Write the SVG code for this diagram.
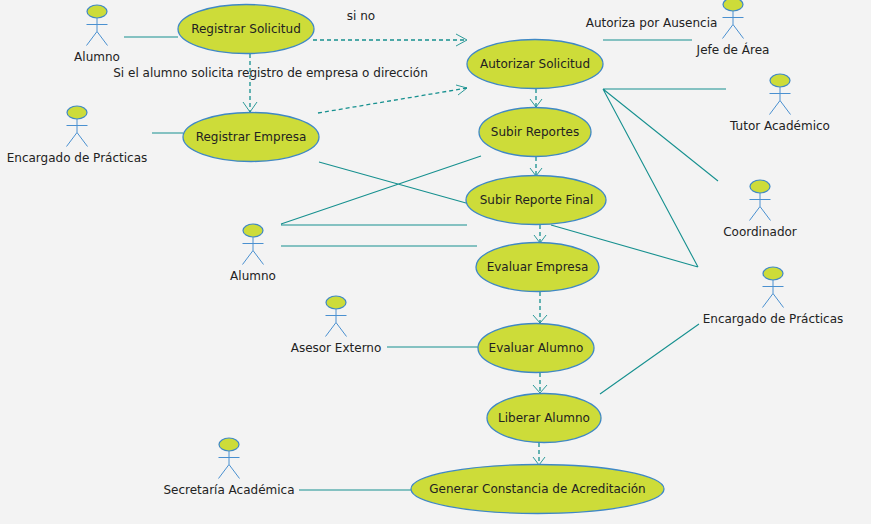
<svg xmlns="http://www.w3.org/2000/svg" width="871" height="524" viewBox="0 0 871 524">
<style>
text{font-family:"DejaVu Sans",sans-serif;font-size:12px;fill:#222;text-anchor:middle}
.u ellipse{fill:#cddc39;stroke:#3f88c5;stroke-width:1.3}
#st ellipse{fill:#cddc39;stroke:#3f88c5;stroke-width:1.2}
#st path{fill:none;stroke:#4a90d0;stroke-width:1}
.s{fill:none;stroke:#16908f;stroke-width:1.1}
.d{fill:none;stroke:#16908f;stroke-width:1.3;stroke-dasharray:4 3}
.h{fill:none;stroke:#16908f;stroke-width:.9}
</style>
<defs>
<g id="st"><ellipse cx="0" cy="0" rx="10" ry="6.500"/><path d="M0 6.500V20M-10.500 13H10.500M0 20L-10.500 34M0 20L10.500 34"/></g>
</defs>
<rect width="871" height="524" fill="#f3f3f3"/>
<g id="connectors">
<path class="s" d="M124 37H178M152 133H183M603 40H692M603 89H726M603 89L718 181M603 89L698 267M319 162L466 203M551 225L698 267M281 224L481 156M281 225H467M281 246H477M387 347H478M600 394L699 324M299 490H411"/>
<path class="d" d="M313 40H466M318 113L467 88M250 54V112M536 89V107M536 157V176M540 225V243M540 292V323M540 373V393M539 443V465"/>
<path class="h" d="M456 34L467 40L456 46M456 85L467 88L458 95M243 102L250 112L257 102M530 99L536 107L542 99M530 168L536 176L542 168M534 235L540 243L546 235M533 315L540 323L547 315M533 385L540 393L547 385M533 457L539 465L545 457"/>
</g>
<g id="a1"><use href="#st" x="97" y="11.500"/><text x="97" y="61">Alumno</text></g>
<g id="a2"><use href="#st" x="77" y="112.500"/><text x="77" y="162">Encargado de Prácticas</text></g>
<g id="a3"><use href="#st" x="733" y="4.500"/><text x="733" y="54">Jefe de Área</text></g>
<g id="a4"><use href="#st" x="780" y="80.500"/><text x="780" y="130">Tutor Académico</text></g>
<g id="a5"><use href="#st" x="760" y="186.500"/><text x="760" y="236">Coordinador</text></g>
<g id="a6"><use href="#st" x="253" y="230.500"/><text x="253" y="280">Alumno</text></g>
<g id="a7"><use href="#st" x="773" y="273.500"/><text x="773" y="323">Encargado de Prácticas</text></g>
<g id="a8"><use href="#st" x="336" y="302.500"/><text x="336" y="352">Asesor Externo</text></g>
<g id="a9"><use href="#st" x="229" y="444.500"/><text x="229" y="494">Secretaría Académica</text></g>
<g id="u1" class="u"><ellipse cx="246" cy="29" rx="68" ry="24.500"/><text x="246" y="33">Registrar Solicitud</text></g>
<g id="u2" class="u"><ellipse cx="251" cy="137" rx="68" ry="24.500"/><text x="251" y="141">Registrar Empresa</text></g>
<g id="u3" class="u"><ellipse cx="535" cy="64" rx="68" ry="24.500"/><text x="535" y="68">Autorizar Solicitud</text></g>
<g id="u4" class="u"><ellipse cx="535" cy="132" rx="56" ry="24.500"/><text x="535" y="136">Subir Reportes</text></g>
<g id="u5" class="u"><ellipse cx="536" cy="200" rx="70" ry="24.500"/><text x="536.500" y="204">Subir Reporte Final</text></g>
<g id="u6" class="u"><ellipse cx="537.500" cy="267" rx="61.500" ry="24.500"/><text x="537.500" y="271">Evaluar Empresa</text></g>
<g id="u7" class="u"><ellipse cx="536" cy="348" rx="58" ry="24.500"/><text x="536" y="352">Evaluar Alumno</text></g>
<g id="u8" class="u"><ellipse cx="544" cy="418" rx="57" ry="24.500"/><text x="544" y="422">Liberar Alumno</text></g>
<g id="u9" class="u"><ellipse cx="537.500" cy="489" rx="126.500" ry="24.500"/><text x="537.500" y="493">Generar Constancia de Acreditación</text></g>
<g id="labels">
<text x="361" y="20">si no</text>
<text x="270.500" y="77">Si el alumno solicita registro de empresa o dirección</text>
<text x="651.500" y="27">Autoriza por Ausencia</text>
</g>
</svg>
